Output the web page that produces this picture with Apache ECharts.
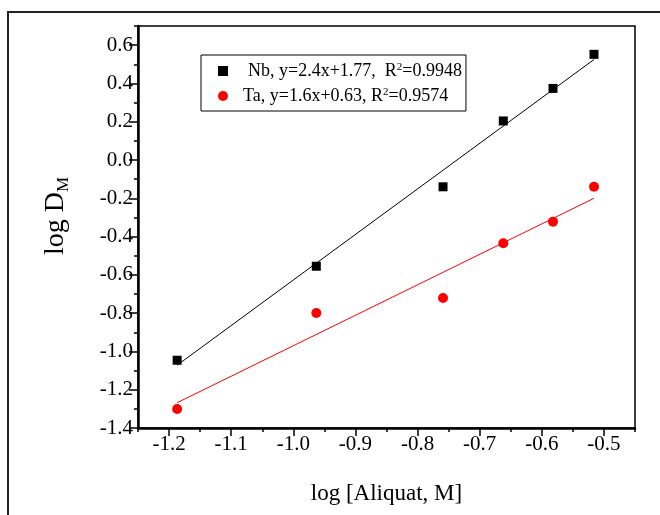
<!DOCTYPE html>
<html><head><meta charset="utf-8">
<script src="https://cdn.jsdelivr.net/npm/echarts@6/dist/echarts.min.js"></script>
<style>html,body{margin:0;padding:0;background:#fff}#c{width:660px;height:515px}</style>
</head><body><div id="c"></div>
<script>
// ---- data ----
const xValues = [-1.187, -0.963, -0.759, -0.662, -0.582, -0.516];
const nbValues = [-1.046, -0.555, -0.140, 0.204, 0.374, 0.552];
const taValues = [-1.301, -0.799, -0.721, -0.435, -0.322, -0.140];
const nbFitX = [-1.187, -0.516];
const nbFitY = [-1.072, 0.525];
const taFitX = [-1.187, -0.516];
const taFitY = [-1.268, -0.200];
const seriesNames = ['Nb', 'Ta'];
const legendLabels = [
  ['Nb, y=2.4x+1.77,  R', '2', '=0.9948'],
  ['Ta, y=1.6x+0.63, R', '2', '=0.9574']
];
const xTitle = 'log [Aliquat, M]';
const yTitleMain = 'log D';
const yTitleSub = 'M';

// ---- layout ----
const FONT = '"Liberation Serif", "DejaVu Serif", serif';
const G = {left: 138, top: 26, width: 497, height: 402};
const X0 = -1.25, X1 = -0.45, Y0 = -1.4, Y1 = 0.7;
const pxX = G.width / (X1 - X0), pxY = G.height / (Y1 - Y0);
const G2 = {
  left: G.left + (-1.2 - X0) * pxX,
  top: G.top + (Y1 - 0.6) * pxY,
  width: (-0.5 - -1.2) * pxX,
  height: (0.6 - Y0) * pxY
};

const pair = (xs, ys) => xs.map((x, i) => [x, ys[i]]);

const chart = echarts.init(document.getElementById('c'));
chart.setOption({
  animation: false,
  backgroundColor: '#fff',
  grid: [
    {left: G.left, top: G.top, width: G.width, height: G.height, show: true,
     borderColor: '#000', borderWidth: 1.5, backgroundColor: 'transparent'},
    {left: G2.left, top: G2.top, width: G2.width, height: G2.height}
  ],
  xAxis: [
    {gridIndex: 0, type: 'value', min: X0, max: X1, interval: 0.05,
     axisLine: {onZero: false, lineStyle: {color: '#000', width: 2.5}},
     axisTick: {length: 4, lineStyle: {color: '#000', width: 1.5}},
     axisLabel: {show: false}, splitLine: {show: false}},
    {gridIndex: 1, type: 'value', min: -1.2, max: -0.5, interval: 0.1,
     axisLine: {show: false, onZero: false},
     axisTick: {length: 8, lineStyle: {color: '#000', width: 1.5}},
     axisLabel: {color: '#000', fontFamily: FONT, fontSize: 21, margin: 6,
                 formatter: v => v.toFixed(1)},
     splitLine: {show: false},
     name: xTitle, nameLocation: 'middle', nameGap: 54,
     nameTextStyle: {color: '#000', fontFamily: FONT, fontSize: 23}}
  ],
  yAxis: [
    {gridIndex: 0, type: 'value', min: Y0, max: Y1, interval: 0.1,
     axisLine: {onZero: false, lineStyle: {color: '#000', width: 2.5}},
     axisTick: {length: 4, lineStyle: {color: '#000', width: 1.5}},
     axisLabel: {show: false}, splitLine: {show: false}},
    {gridIndex: 1, type: 'value', min: -1.4, max: 0.6, interval: 0.2,
     offset: G2.left - G.left,
     axisLine: {show: false, onZero: false},
     axisTick: {length: 9, lineStyle: {color: '#000', width: 1.5}},
     axisLabel: {color: '#000', fontFamily: FONT, fontSize: 21, margin: 5,
                 formatter: v => v.toFixed(1)},
     splitLine: {show: false}}
  ],
  legend: {
    orient: 'vertical', left: 201, top: 55,
    data: seriesNames,
    borderColor: '#000', borderWidth: 1, padding: [7, 4, 6, 17],
    itemGap: 7, itemWidth: 10, itemHeight: 10,
    textStyle: {color: '#000', fontFamily: FONT, fontSize: 18,
      rich: {
        t0: {fontFamily: FONT, fontSize: 18, color: '#000', padding: [0, 0, 0, 15]},
        t1: {fontFamily: FONT, fontSize: 18, color: '#000', padding: [0, 0, 0, 10]},
        u: {fontFamily: FONT, fontSize: 18, color: '#000'},
        s: {fontFamily: FONT, fontSize: 11, color: '#000', verticalAlign: 'top', padding: [0, 0, 6, 0]}
      }},
    formatter: name => {
      const i = seriesNames.indexOf(name);
      const l = legendLabels[i];
      return '{t' + i + '|' + l[0] + '}{s|' + l[1] + '}{u|' + l[2] + '}';
    }
  },
  graphic: [
    {type: 'rect', shape: {x: 8, y: 12, width: 700, height: 600},
     style: {fill: 'none', stroke: '#222', lineWidth: 2}, silent: true},
    {type: 'text', x: 56, y: 216, rotation: Math.PI / 2,
     style: {text: '{a|' + yTitleMain + '}{b|' + yTitleSub + '}',
       align: 'center', verticalAlign: 'middle',
       rich: {
         a: {fontFamily: FONT, fontSize: 28, fill: '#000', lineHeight: 32},
         b: {fontFamily: FONT, fontSize: 17, fill: '#000', verticalAlign: 'bottom', padding: [10, 0, 0, 0]}
       }}}
  ],
  series: [
    {name: 'Nb fit', type: 'line', xAxisIndex: 0, yAxisIndex: 0, data: pair(nbFitX, nbFitY),
     showSymbol: false, symbol: 'none', lineStyle: {color: '#000', width: 1}, z: 2, silent: true},
    {name: 'Ta fit', type: 'line', xAxisIndex: 0, yAxisIndex: 0, data: pair(taFitX, taFitY),
     showSymbol: false, symbol: 'none', lineStyle: {color: '#ff0000', width: 1}, z: 2, silent: true},
    {name: seriesNames[0], type: 'scatter', xAxisIndex: 0, yAxisIndex: 0, data: pair(xValues, nbValues),
     symbol: 'rect', symbolSize: 9, itemStyle: {color: '#000', opacity: 1}, z: 3},
    {name: seriesNames[1], type: 'scatter', xAxisIndex: 0, yAxisIndex: 0, data: pair(xValues, taValues),
     symbol: 'circle', symbolSize: 10, itemStyle: {color: '#ff0000', opacity: 1}, z: 3}
  ]
});
</script>
</body></html>
